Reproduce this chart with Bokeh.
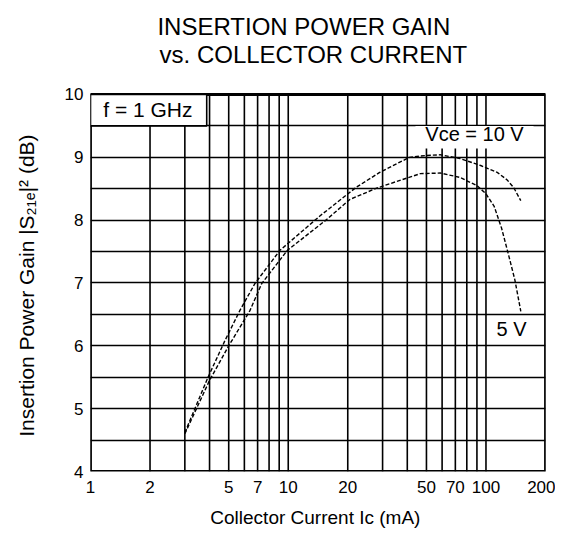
from bokeh.plotting import figure
from bokeh.models import FixedTicker, ColumnDataSource
from bokeh.core.properties import value
from bokeh.embed import file_html
from bokeh.resources import INLINE

# ---- data ----
ic_10v = [3, 3.93, 4.78, 5.69, 6.78, 9.08, 14.5, 22, 29, 41, 50, 59, 74, 94, 114, 128, 138, 150]
gain_10v = [4.62, 5.5, 6.08, 6.56, 6.99, 7.52, 8.07, 8.52, 8.76, 9.0, 9.03, 9.04, 8.98, 8.87, 8.76, 8.64, 8.52, 8.31]
ic_5v = [3, 4.0, 5.0, 6.4, 7.34, 9.9, 15.5, 20.5, 28, 46.5, 58.7, 74, 90, 100, 110, 120, 130, 140, 150]
gain_5v = [4.6, 5.45, 6.0, 6.56, 6.99, 7.52, 8.0, 8.33, 8.51, 8.74, 8.75, 8.68, 8.55, 8.42, 8.22, 7.87, 7.45, 7.05, 6.55]

x_grid_ticks = [1, 2, 3, 4, 5, 6, 7, 8, 9, 10, 20, 30, 40, 50, 60, 70, 80, 90, 100, 200]
x_label_ticks = [1, 2, 5, 7, 10, 20, 50, 70, 100, 200]
y_grid_ticks = [4, 4.5, 5, 5.5, 6, 6.5, 7, 7.5, 8, 8.5, 9, 9.5, 10]
y_label_ticks = [4, 5, 6, 7, 8, 9, 10]

title_lines = ["INSERTION POWER GAIN", "vs. COLLECTOR CURRENT"]

FONT = "Liberation Sans"
X_MIN, X_MAX, Y_MIN, Y_MAX = 1, 200, 4, 10
Y_TOP = 11.496  # extra room above the chart box for the two-line title

p = figure(width=555, height=535, x_axis_type="log", x_range=(X_MIN, X_MAX), y_range=(Y_MIN, Y_TOP),
           output_backend="svg", toolbar_location=None, title=None,
           min_border_left=90, min_border_right=10, min_border_top=0, min_border_bottom=64)
p.background_fill_color = "white"
p.border_fill_color = "white"
p.outline_line_color = None

# grid: horizontal lines from the grid model, vertical lines limited to the chart box
p.xgrid.grid_line_color = None
p.ygrid.ticker = FixedTicker(ticks=y_grid_ticks)
p.ygrid.grid_line_color = "black"
p.ygrid.grid_line_width = 1.6
p.ygrid.grid_line_alpha = 1.0
p.segment(x0=x_grid_ticks, x1=x_grid_ticks, y0=[Y_MIN] * len(x_grid_ticks),
          y1=[Y_MAX] * len(x_grid_ticks), line_color="black", line_width=1.6)

# axes
p.xaxis.ticker = FixedTicker(ticks=x_label_ticks)
p.xaxis.major_label_overrides = {t: str(t) for t in x_label_ticks}
p.yaxis.ticker = FixedTicker(ticks=y_label_ticks)
p.yaxis.major_label_overrides = {t: str(t) for t in y_label_ticks}
for ax in (p.xaxis, p.yaxis):
    ax.axis_line_color = None
    ax.major_tick_line_color = None
    ax.minor_tick_line_color = None
    ax.major_tick_in = 0
    ax.major_tick_out = 0
    ax.major_label_text_font = FONT
    ax.major_label_text_font_size = "17px"
    ax.major_label_text_color = "black"
    ax.axis_label_text_font = FONT
    ax.axis_label_text_font_style = "normal"
    ax.axis_label_text_color = "black"
p.xaxis.axis_label_text_font_size = "19px"
p.yaxis.axis_label_text_font_size = "21px"
p.xaxis.axis_label = "Collector Current  Ic (mA)"
# trailing no-break spaces keep the label centred on the chart box, not the whole frame
p.yaxis.axis_label = "Insertion Power Gain  |S\u2082\u2081\u2091|\u00b2 (dB)" + "\u00a0" * 16
p.xaxis.major_label_standoff = 9
p.yaxis.major_label_standoff = 7
p.xaxis.axis_label_standoff = 11
p.yaxis.axis_label_standoff = 24

# chart box outline
p.quad(left=[X_MIN], right=[X_MAX], bottom=[Y_MIN], top=[Y_MAX], fill_color=None,
       line_color="black", line_width=2.8)

# title
p.text(x=[12.0], y=[11.08], text=[title_lines[0]], text_font=value(FONT), text_font_size="24px",
       text_align="center", text_baseline="middle", text_color="black")
p.text(x=[13.4], y=[10.64], text=[title_lines[1]], text_font=value(FONT), text_font_size="24px",
       text_align="center", text_baseline="middle", text_color="black")

# label boxes
p.quad(left=[1], right=[3.87], bottom=[9.5], top=[10], fill_color="white",
       line_color="black", line_width=1.6)
p.quad(left=[44], right=[174], bottom=[9.14], top=[9.5], fill_color="white",
       line_color=None)

# curves
s10 = ColumnDataSource(dict(x=ic_10v, y=gain_10v))
s5 = ColumnDataSource(dict(x=ic_5v, y=gain_5v))
p.line("x", "y", source=s10, line_color="black", line_width=1.4, line_dash="4 2")
p.line("x", "y", source=s5, line_color="black", line_width=1.4, line_dash="4 2")

# in-plot labels
p.text(x=[1.95], y=[9.76], text=["f = 1 GHz"], text_font=value(FONT), text_font_size="21px",
       text_align="center", text_baseline="middle", text_color="black")
p.text(x=[87.5], y=[9.375], text=["Vce = 10 V"], text_font=value(FONT), text_font_size="20px",
       text_align="center", text_baseline="middle", text_color="black")
p.text(x=[134.6], y=[6.26], text=["5 V"], text_font=value(FONT), text_font_size="20px",
       text_align="center", text_baseline="middle", text_color="black")

open("out.html", "w").write(file_html(p, INLINE))
